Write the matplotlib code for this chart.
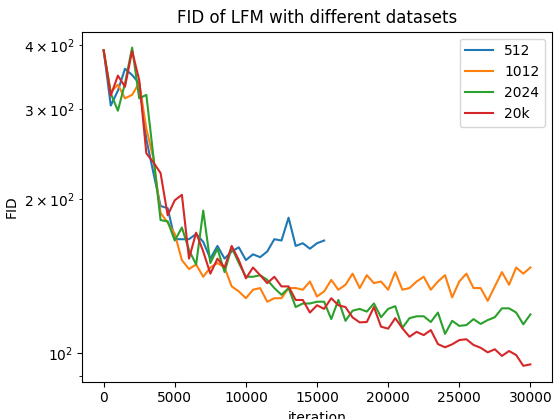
import matplotlib
matplotlib.use("Agg")
import matplotlib.pyplot as plt
import numpy as np

step = 500
iters_512 = list(range(0, 15501, step))
iters_all = list(range(0, 30001, step))

fid_512 = [391, 305, 326, 360, 350, 337, 262, 225, 194, 192,
           167, 167, 167, 171, 165, 153, 162, 153, 158, 161,
           152, 156, 154, 158, 167, 166, 184, 162, 164, 160,
           164, 166]

fid_1012 = [391, 324, 335, 315, 320, 338, 275, 240, 188, 180,
            171, 152, 146, 149, 141, 147, 150, 147, 135, 132,
            128, 133, 134, 126, 128, 128, 134, 134, 133, 138,
            129, 132, 139, 133, 136, 143, 134, 142, 137, 138,
            133, 144, 133, 134, 138, 141, 133, 138, 142, 128.5,
            138, 143, 134, 134, 126.5, 135, 144, 136, 147, 143, 147]

fid_2024 = [391, 322, 298, 337, 396, 315, 320, 242, 182, 181,
            166, 176, 159, 149, 190, 150, 160, 144, 161, 150,
            141, 141, 142, 139, 134, 130, 134, 123, 125, 125,
            126, 126, 116.5, 127, 115.6, 121, 122, 120.5, 125, 117.5,
            122, 123.5, 112, 117, 118, 118, 115, 120, 109, 115.6,
            113, 113.4, 116.5, 114, 116, 117.5, 122.3, 122.3, 120, 113.8, 119]

fid_20k = [391, 319, 349, 332, 390, 342, 246, 236, 225, 186,
           199, 204, 153, 172, 158, 143, 153, 147, 162, 152,
           140, 147, 142, 137, 141, 135, 135, 127, 127, 120,
           124, 122, 128, 124, 123, 117.4, 114.8, 115, 123, 112.6,
           111.6, 117, 111.8, 107.6, 110, 108.4, 110.9, 104.1, 102.6, 104,
           106, 106.4, 103.7, 102.4, 100.3, 101.7, 98.7, 100.9, 99.1, 94.4, 95]

labels = ["512", "1012", "2024", "20k"]

fig = plt.figure(figsize=(5.54, 4.19), dpi=100)
ax = fig.add_axes([0.1486, 0.089, 0.8473, 0.8354])
ax.plot(iters_512, fid_512, label=labels[0])
ax.plot(iters_all, fid_1012, label=labels[1])
ax.plot(iters_all, fid_2024, label=labels[2])
ax.plot(iters_all, fid_20k, label=labels[3])
ax.set_yscale("log")
ax.set_title("FID of LFM with different datasets")
ax.set_xlabel("iteration")
ax.set_ylabel("FID")
ax.legend(loc="upper right")
fig.savefig("out.png", dpi=100)
